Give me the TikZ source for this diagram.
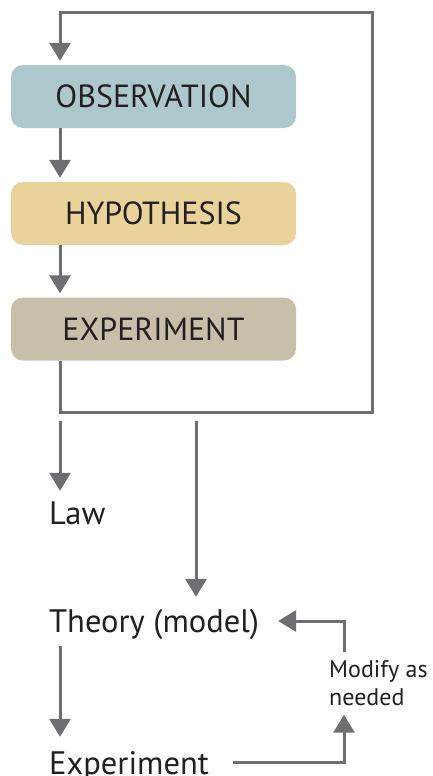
\documentclass[tikz,border=0pt]{standalone}
\usepackage{fontspec}
\setmainfont{PT Sans}
\usetikzlibrary{arrows.meta}
\definecolor{linegray}{RGB}{109,110,113}
\definecolor{obsc}{RGB}{173,200,205}
\definecolor{hypc}{RGB}{234,211,155}
\definecolor{expc}{RGB}{200,191,170}
\definecolor{txt}{RGB}{35,31,32}
\begin{document}
\begin{tikzpicture}[x=1pt,y=-1pt,
  box/.style={rectangle, rounded corners=12pt, minimum width=285pt, minimum height=63pt,
    inner sep=0pt, text=txt, font=\fontsize{32}{36}\selectfont},
  conn/.style={draw=linegray, line width=3pt, line join=miter},
  arr/.style={conn, -{Triangle[width=21pt,length=18pt]}},
  lbl/.style={inner sep=0pt, text=txt, anchor=base west, text height=23pt, text depth=7pt,
    font=\fontsize{32.5}{38}\selectfont},
  small/.style={inner sep=0pt, text=txt, anchor=north west, align=left,
    font=\fontsize{24}{28}\selectfont}
]
\useasboundingbox (0,0) rectangle (432,776);
\node[box, fill=obsc] (obs) at (153.5,96.5) {OBSERVATION};
\node[box, fill=hypc] (hyp) at (153.5,213.5) {HYPOTHESIS};
\node[box, fill=expc] (exp) at (153.5,329) {EXPERIMENT};

\coordinate (lx) at (60,0);
\coordinate (mx) at (344,0);
\coordinate (tl) at (60,13);
\coordinate (tr) at (372,13);
\coordinate (br) at (372,412);
\coordinate (bl) at (60,412);
\coordinate (lawtop) at (60,421);
\coordinate (thtop) at (196,421);

\node[lbl] (law) at (49,524) {Law};
\node[lbl] (theory) at (49,632) {Theory (model)};
\node[lbl] (exp2) at (49,774) {Experiment};
\node[small] (mod) at (329,660) {Modify as\\needed};

\draw[arr, shorten >=4pt] (exp.south -| lx) -- (bl) -- (br) -- (tr) -- (tl) -- (obs.north -| lx);
\draw[arr, shorten >=4pt] (obs.south -| lx) -- (hyp.north -| lx);
\draw[arr, shorten >=4pt] (hyp.south -| lx) -- (exp.north -| lx);

\draw[arr, shorten >=10pt] (lawtop) -- (law.north -| lx);
\draw[arr, shorten >=12pt] (thtop) -- (theory.north -| thtop);
\draw[arr, shorten <=7pt, shorten >=14pt] (theory.south -| lx) -- (exp2.north -| lx);
\draw[arr, shorten <=24pt, shorten >=9pt] ([yshift=4pt]exp2.east) -| (mod.south -| mx);
\draw[arr, shorten <=8pt, shorten >=19pt] (mod.north -| mx) |- ([yshift=3pt]theory.east);
\end{tikzpicture}
\end{document}
